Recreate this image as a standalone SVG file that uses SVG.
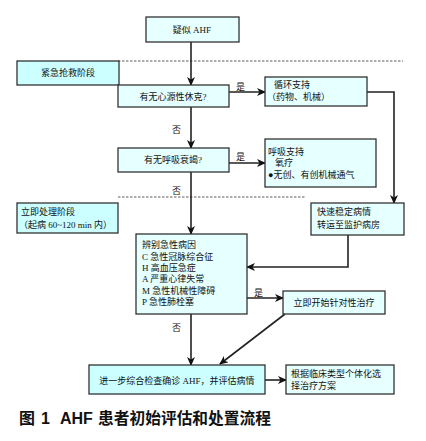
<svg xmlns="http://www.w3.org/2000/svg" width="426" height="441" viewBox="0 0 426 441">
<style>
.box{fill:#e6ffff;stroke:#333;stroke-width:1.3}
.stage{fill:#ccffff;stroke:#333;stroke-width:1.3}
.t{font-family:"Liberation Serif","Noto Sans CJK SC",serif;font-size:9px;fill:#111}
.c{text-anchor:middle}
.ln{fill:none;stroke:#222;stroke-width:1.6}
.dash{fill:none;stroke:#333;stroke-width:0.8;stroke-dasharray:2.5,1.5}
.cap{font-family:"Liberation Sans","Noto Sans CJK SC",sans-serif;font-size:16px;font-weight:bold;fill:#111}
</style>
<defs>
<marker id="ah" markerWidth="9" markerHeight="8" refX="8" refY="4" orient="auto" markerUnits="userSpaceOnUse">
<path d="M0,0 L9,4 L0,8 L2.5,4 Z" fill="#111"/>
</marker>
</defs>
<rect width="426" height="441" fill="#fff"/>
<g id="dividers">
<line class="dash" x1="118" y1="61" x2="403" y2="61"/>
<line class="dash" x1="118" y1="197" x2="306" y2="197"/>
</g>
<g id="connectors">
<line class="ln" x1="191" y1="42" x2="191" y2="85" marker-end="url(#ah)"/>
<line class="ln" x1="229" y1="92" x2="265" y2="92" marker-end="url(#ah)"/>
<polyline class="ln" points="367,92 394,92 394,203" marker-end="url(#ah)"/>
<line class="ln" x1="191" y1="107" x2="191" y2="148" marker-end="url(#ah)"/>
<line class="ln" x1="229" y1="163" x2="265" y2="163" marker-end="url(#ah)"/>
<line class="ln" x1="191" y1="172" x2="191" y2="234" marker-end="url(#ah)"/>
<polyline class="ln" points="348,235 348,267 247,267" marker-end="url(#ah)"/>
<line class="ln" x1="247" y1="298" x2="283" y2="298" marker-end="url(#ah)"/>
<line class="ln" x1="285" y1="314" x2="220" y2="364" marker-end="url(#ah)"/>
<line class="ln" x1="191" y1="314" x2="191" y2="365" marker-end="url(#ah)"/>
<line class="ln" x1="265" y1="380" x2="286" y2="380" marker-end="url(#ah)"/>
<text class="t" x="236" y="90">是</text>
<text class="t" x="172" y="133">否</text>
<text class="t" x="236" y="160">是</text>
<text class="t" x="172" y="194">否</text>
<text class="t" x="254" y="296">是</text>
<text class="t" x="172" y="331">否</text>
</g>
<g id="n-suspect">
<rect class="box" x="146" y="17" width="93" height="25"/>
<text class="t c" x="192" y="33">疑似 AHF</text>
</g>
<g id="s-emergency">
<rect class="stage" x="17" y="61" width="102" height="24"/>
<text class="t c" x="68" y="76">紧急抢救阶段</text>
</g>
<g id="n-shock">
<rect class="box" x="118" y="85" width="111" height="22"/>
<text class="t c" x="173" y="100">有无心源性休克?</text>
</g>
<g id="n-circ">
<rect class="box" x="265" y="77" width="102" height="29"/>
<text class="t" x="274" y="88">循环支持</text>
<text class="t" x="267" y="100">（药物、机械）</text>
</g>
<g id="n-resp">
<rect class="box" x="118" y="148" width="111" height="24"/>
<text class="t c" x="173" y="163">有无呼吸衰竭?</text>
</g>
<g id="n-respsup">
<rect class="box" x="265" y="139" width="111" height="48"/>
<text class="t" x="268" y="155">呼吸支持</text>
<text class="t" x="275" y="166">氧疗</text>
<text class="t" x="268" y="178">●无创、有创机械通气</text>
</g>
<g id="s-immediate">
<rect class="stage" x="17" y="203" width="101" height="30"/>
<text class="t" x="21" y="215">立即处理阶段</text>
<text class="t" x="19" y="228">（起病 60~120 min 内）</text>
</g>
<g id="n-stabilize">
<rect class="box" x="311" y="203" width="93" height="32"/>
<text class="t" x="317" y="215">快速稳定病情</text>
<text class="t" x="317" y="228">转运至监护病房</text>
</g>
<g id="n-cause">
<rect class="box" x="136" y="234" width="111" height="80"/>
<text class="t" x="142" y="248">辨别急性病因</text>
<text class="t" x="142" y="260">C 急性冠脉综合征</text>
<text class="t" x="142" y="271">H 高血压急症</text>
<text class="t" x="142" y="282">A 严重心律失常</text>
<text class="t" x="142" y="294">M 急性机械性障碍</text>
<text class="t" x="142" y="305">P 急性肺栓塞</text>
</g>
<g id="n-targeted">
<rect class="box" x="283" y="291" width="102" height="23"/>
<text class="t c" x="334" y="306">立即开始针对性治疗</text>
</g>
<g id="n-further">
<rect class="stage" x="89" y="365" width="176" height="29"/>
<text class="t c" x="177" y="384">进一步综合检查确诊 AHF，并评估病情</text>
</g>
<g id="n-individual">
<rect class="box" x="286" y="365" width="108" height="29"/>
<text class="t" x="291" y="377">根据临床类型个体化选</text>
<text class="t" x="291" y="389">择治疗方案</text>
</g>
<text class="cap" y="424"><tspan x="19">图</tspan><tspan x="41">1</tspan><tspan x="60">AHF</tspan><tspan x="98" textLength="173" lengthAdjust="spacingAndGlyphs">患者初始评估和处置流程</tspan></text>
</svg>
